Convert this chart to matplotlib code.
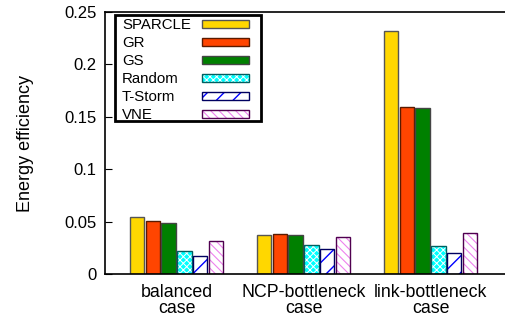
import numpy as np
import matplotlib
matplotlib.use("Agg")
import matplotlib.pyplot as plt
from matplotlib.patches import Rectangle

plt.rcParams['font.family'] = ['Liberation Sans', 'DejaVu Sans']

# data
cases = ["balanced\ncase", "NCP-bottleneck\ncase", "link-bottleneck\ncase"]
methods = ["SPARCLE", "GR", "GS", "Random", "T-Storm", "VNE"]
sparcle = [0.0544, 0.0375, 0.232]
gr = [0.0509, 0.0385, 0.159]
gs = [0.0490, 0.0369, 0.158]
rnd = [0.0217, 0.0274, 0.0264]
tstorm = [0.0172, 0.0235, 0.0203]
vne = [0.0312, 0.0356, 0.0388]
values = [sparcle, gr, gs, rnd, tstorm, vne]

# fill, hatch colour, hatch, hatch width, edge
styles = [
    ("#FFD700", None, None, 0, "#555555"),
    ("#FF4500", None, None, 0, "#5a1a00"),
    ("#008000", None, None, 0, "#444444"),
    ("#00FFFF", "white", "xxxxx", 0.7, "#006060"),
    ("white", "#0000FF", "//", 1.0, "#000060"),
    ("white", "#EE82EE", "\\\\\\\\", 0.8, "#500050"),
]

fig = plt.figure(figsize=(5.05, 3.21), dpi=100)
# frame runs past the right edge of the picture
ax = fig.add_axes([105 / 505, 47 / 321, 420 / 505, 262 / 321])

def bar_layer(target, pos, h, w, fc, hc, hatch, hlw, ec, **kw):
    if hatch:
        with plt.rc_context({"hatch.linewidth": hlw}):
            target(pos, h, w, color=fc, edgecolor=hc, hatch=hatch, linewidth=0, **kw)
        target(pos, h, w, color="none", edgecolor=ec, linewidth=1.0, **kw)
    else:
        target(pos, h, w, color=fc, edgecolor=ec, linewidth=1.0, **kw)

x = np.arange(len(cases))
step = 0.1236
width = 0.114
for i, (vals, st) in enumerate(zip(values, styles)):
    bar_layer(ax.bar, x + (i - 2.5) * step, vals, width, *st)

ax.set_xlim(-0.563, -0.563 + 420 / 127)
ax.set_ylim(0, 0.25)
ax.set_yticks([0, 0.05, 0.1, 0.15, 0.2, 0.25])
ax.set_yticklabels(["0", "0.05", "0.1", "0.15", "0.2", "0.25"], fontsize=12)
ax.set_xticks(x)
ax.set_xticklabels(cases, fontsize=12.8, linespacing=0.95)
ax.tick_params(axis="y", direction="in", length=5, width=0.8, pad=6)
ax.tick_params(axis="x", length=0, pad=7)
for s in ax.spines.values():
    s.set_linewidth(1.2)
ax.set_ylabel("Energy efficiency", fontsize=13, labelpad=22)

# legend box, labels left and swatches right (positions in pixels)
def ax_x(px):
    return (px - 105) / 420

def ax_y(py):
    return (274 - py) / 262

ax.add_patch(Rectangle((ax_x(115), ax_y(121)), ax_x(261) - ax_x(115), ax_y(15) - ax_y(121),
                       transform=ax.transAxes, facecolor="white", edgecolor="black",
                       linewidth=2, zorder=5))
for i, (name, (fc, hc, hatch, hlw, ec)) in enumerate(zip(methods, styles)):
    cy = 24.3 + 18 * i
    ax.text(ax_x(122), ax_y(cy + 0.5), name, transform=ax.transAxes, fontsize=10.8,
            ha="left", va="center", zorder=6)
    sx, sw = ax_x(202), ax_x(249) - ax_x(202)
    sy, sh = ax_y(cy + 4), ax_y(cy - 4) - ax_y(cy + 4)
    if hatch:
        with plt.rc_context({"hatch.linewidth": hlw}):
            ax.add_patch(Rectangle((sx, sy), sw, sh, transform=ax.transAxes, facecolor=fc,
                                   edgecolor=hc, hatch=hatch, linewidth=0, zorder=6))
        ax.add_patch(Rectangle((sx, sy), sw, sh, transform=ax.transAxes, facecolor="none",
                               edgecolor=ec, linewidth=1.0, zorder=7))
    else:
        ax.add_patch(Rectangle((sx, sy), sw, sh, transform=ax.transAxes, facecolor=fc,
                               edgecolor=ec, linewidth=1.0, zorder=6))

fig.savefig("out.png", dpi=100)
